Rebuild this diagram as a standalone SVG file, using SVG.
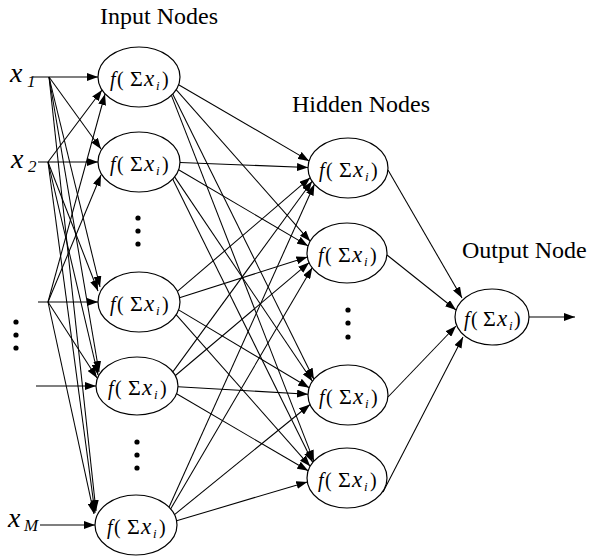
<svg xmlns="http://www.w3.org/2000/svg" width="591" height="559" viewBox="0 0 591 559">
  <style>
    .node { fill: #ffffff; stroke: #000000; stroke-width: 1.2; }
    .link { fill: none; stroke: #000000; stroke-width: 1.05; marker-end: url(#arrow); }
    .title { font-family: "Liberation Serif", "Times New Roman", serif; font-size: 24px; fill: #000000; }
    .fx { font-family: "Liberation Serif", "Times New Roman", serif; font-size: 20px; fill: #000000; }
    .it { font-style: italic; }
    .sg { font-size: 22px; }
    .xv { font-style: italic; font-size: 23px; }
    .sub { font-style: italic; font-size: 13px; }
    .inlab { font-family: "Liberation Serif", "Times New Roman", serif; font-style: italic; font-size: 28px; fill: #000000; }
    .insub { font-size: 17px; }
    .dot { fill: #000000; }
  </style>
  <defs>
    <marker id="arrow" markerUnits="userSpaceOnUse" markerWidth="11" markerHeight="8" refX="11" refY="4" orient="auto">
      <path d="M0,0 L11,4 L0,8 z" fill="#000000"/>
    </marker>
  </defs>

  <rect x="0" y="0" width="591" height="559" fill="#ffffff"/>

  <!-- layer headings -->
  <text class="title" x="100" y="24">Input Nodes</text>
  <text class="title" x="292" y="112">Hidden Nodes</text>
  <text class="title" x="462" y="258">Output Node</text>

  <!-- connectors -->
  <g id="connectors">
    <!-- inputs into the input layer -->
    <line class="link" x1="33" y1="77" x2="98" y2="77"/>
    <line class="link" x1="38" y1="162" x2="98" y2="162"/>
    <line class="link" x1="38" y1="302" x2="98" y2="302"/>
    <line class="link" x1="36" y1="386" x2="96" y2="386"/>
    <line class="link" x1="40" y1="525" x2="95" y2="525"/>
    <!-- fan-out from x1 -->
    <line class="link" x1="49" y1="77" x2="101" y2="149"/>
    <line class="link" x1="49" y1="77" x2="100" y2="287"/>
    <line class="link" x1="49" y1="77" x2="99" y2="372"/>
    <line class="link" x1="49" y1="77" x2="96" y2="511"/>
    <!-- fan-out from x2 -->
    <line class="link" x1="48" y1="162" x2="102" y2="90"/>
    <line class="link" x1="48" y1="162" x2="98" y2="291"/>
    <line class="link" x1="48" y1="162" x2="98" y2="375"/>
    <line class="link" x1="48" y1="162" x2="95" y2="513"/>
    <!-- fan-out from the third input -->
    <line class="link" x1="48" y1="302" x2="105" y2="94"/>
    <line class="link" x1="48" y1="302" x2="101" y2="175"/>
    <line class="link" x1="48" y1="302" x2="97" y2="378"/>
    <line class="link" x1="48" y1="302" x2="94" y2="514"/>

    <!-- input layer to hidden layer -->
    <line class="link" x1="178.6" y1="84.7" x2="309.1" y2="160.9"/>
    <line class="link" x1="176.1" y1="89.7" x2="310.2" y2="241.3"/>
    <line class="link" x1="172.7" y1="94.1" x2="313.9" y2="379.3"/>
    <line class="link" x1="171.4" y1="95.4" x2="313.9" y2="461.1"/>

    <line class="link" x1="180" y1="162.5" x2="308" y2="167.5"/>
    <line class="link" x1="178.6" y1="169.7" x2="308.1" y2="245.9"/>
    <line class="link" x1="174.6" y1="176.9" x2="312.4" y2="381.3"/>
    <line class="link" x1="172.7" y1="179" x2="312.8" y2="462.4"/>

    <line class="link" x1="177.4" y1="291.4" x2="310.2" y2="177.7"/>
    <line class="link" x1="179.5" y1="297.7" x2="307.4" y2="257"/>
    <line class="link" x1="178.6" y1="309.9" x2="309.2" y2="387.8"/>
    <line class="link" x1="176.1" y1="314.7" x2="310.2" y2="466.3"/>

    <line class="link" x1="173" y1="371.6" x2="312.1" y2="181.2"/>
    <line class="link" x1="175.4" y1="375.5" x2="309.1" y2="262.6"/>
    <line class="link" x1="178" y1="386.8" x2="308" y2="394.2"/>
    <line class="link" x1="176.6" y1="393.8" x2="308.2" y2="470.8"/>

    <line class="link" x1="169" y1="507.2" x2="314.4" y2="184.3"/>
    <line class="link" x1="170.6" y1="508.9" x2="312.2" y2="267.7"/>
    <line class="link" x1="174.5" y1="514.6" x2="310" y2="404.5"/>
    <line class="link" x1="176.6" y1="520.8" x2="307.3" y2="481.9"/>

    <!-- hidden layer to output -->
    <line class="link" x1="388" y1="170" x2="462" y2="298"/>
    <line class="link" x1="387" y1="255" x2="456" y2="310"/>
    <line class="link" x1="388" y1="397" x2="456" y2="326"/>
    <line class="link" x1="383" y1="492" x2="463" y2="337"/>

    <!-- network output -->
    <line class="link" x1="529" y1="317" x2="575" y2="317"/>
  </g>

  <!-- input labels -->
  <g id="input-x1">
    <text class="inlab" x="10" y="82">x<tspan class="insub" x="27" y="87">1</tspan></text>
  </g>
  <g id="input-x2">
    <text class="inlab" x="11" y="168">x<tspan class="insub" x="28" y="172">2</tspan></text>
  </g>
  <g id="input-xM">
    <text class="inlab" x="8" y="527">x<tspan class="insub" x="24" y="531">M</tspan></text>
  </g>
  <g id="input-dots">
    <circle class="dot" cx="16" cy="322" r="2.6"/>
    <circle class="dot" cx="16" cy="335" r="2.6"/>
    <circle class="dot" cx="16" cy="348" r="2.6"/>
  </g>

  <!-- input layer -->
  <g id="in1">
    <ellipse class="node" cx="139" cy="77" rx="41" ry="30"/>
    <text class="fx"><tspan class="it" x="110" y="86">f</tspan><tspan x="117" y="86">(</tspan><tspan class="sg" x="130" y="86">Σ</tspan><tspan class="xv" x="144" y="86">x</tspan><tspan class="sub" x="156" y="90">i</tspan><tspan x="162" y="86">)</tspan></text>
  </g>
  <g id="in2">
    <ellipse class="node" cx="139" cy="162" rx="41" ry="30"/>
    <text class="fx"><tspan class="it" x="110" y="171">f</tspan><tspan x="117" y="171">(</tspan><tspan class="sg" x="130" y="171">Σ</tspan><tspan class="xv" x="144" y="171">x</tspan><tspan class="sub" x="156" y="175">i</tspan><tspan x="162" y="171">)</tspan></text>
  </g>
  <g id="in-dots-a">
    <circle class="dot" cx="138" cy="218" r="2.6"/>
    <circle class="dot" cx="138" cy="231" r="2.6"/>
    <circle class="dot" cx="138" cy="244" r="2.6"/>
  </g>
  <g id="in3">
    <ellipse class="node" cx="139" cy="302" rx="41" ry="30"/>
    <text class="fx"><tspan class="it" x="110" y="311">f</tspan><tspan x="117" y="311">(</tspan><tspan class="sg" x="130" y="311">Σ</tspan><tspan class="xv" x="144" y="311">x</tspan><tspan class="sub" x="156" y="315">i</tspan><tspan x="162" y="311">)</tspan></text>
  </g>
  <g id="in4">
    <ellipse class="node" cx="137" cy="386" rx="41" ry="29"/>
    <text class="fx"><tspan class="it" x="108" y="395">f</tspan><tspan x="115" y="395">(</tspan><tspan class="sg" x="128" y="395">Σ</tspan><tspan class="xv" x="142" y="395">x</tspan><tspan class="sub" x="154" y="399">i</tspan><tspan x="160" y="395">)</tspan></text>
  </g>
  <g id="in-dots-b">
    <circle class="dot" cx="137" cy="442" r="2.6"/>
    <circle class="dot" cx="137" cy="455" r="2.6"/>
    <circle class="dot" cx="137" cy="468" r="2.6"/>
  </g>
  <g id="in5">
    <ellipse class="node" cx="136" cy="525" rx="41" ry="30"/>
    <text class="fx"><tspan class="it" x="107" y="534">f</tspan><tspan x="114" y="534">(</tspan><tspan class="sg" x="127" y="534">Σ</tspan><tspan class="xv" x="141" y="534">x</tspan><tspan class="sub" x="153" y="538">i</tspan><tspan x="159" y="534">)</tspan></text>
  </g>

  <!-- hidden layer -->
  <g id="hid1">
    <ellipse class="node" cx="348" cy="168" rx="40" ry="30"/>
    <text class="fx"><tspan class="it" x="319" y="177">f</tspan><tspan x="326" y="177">(</tspan><tspan class="sg" x="339" y="177">Σ</tspan><tspan class="xv" x="353" y="177">x</tspan><tspan class="sub" x="365" y="181">i</tspan><tspan x="371" y="177">)</tspan></text>
  </g>
  <g id="hid2">
    <ellipse class="node" cx="347" cy="253" rx="40" ry="30"/>
    <text class="fx"><tspan class="it" x="318" y="262">f</tspan><tspan x="325" y="262">(</tspan><tspan class="sg" x="338" y="262">Σ</tspan><tspan class="xv" x="352" y="262">x</tspan><tspan class="sub" x="364" y="266">i</tspan><tspan x="370" y="262">)</tspan></text>
  </g>
  <g id="hid-dots">
    <circle class="dot" cx="348" cy="310" r="2.6"/>
    <circle class="dot" cx="348" cy="323" r="2.6"/>
    <circle class="dot" cx="348" cy="337" r="2.6"/>
  </g>
  <g id="hid3">
    <ellipse class="node" cx="348" cy="395" rx="40" ry="30"/>
    <text class="fx"><tspan class="it" x="319" y="404">f</tspan><tspan x="326" y="404">(</tspan><tspan class="sg" x="339" y="404">Σ</tspan><tspan class="xv" x="353" y="404">x</tspan><tspan class="sub" x="365" y="408">i</tspan><tspan x="371" y="404">)</tspan></text>
  </g>
  <g id="hid4">
    <ellipse class="node" cx="347" cy="478" rx="40" ry="30"/>
    <text class="fx"><tspan class="it" x="318" y="487">f</tspan><tspan x="325" y="487">(</tspan><tspan class="sg" x="338" y="487">Σ</tspan><tspan class="xv" x="352" y="487">x</tspan><tspan class="sub" x="364" y="491">i</tspan><tspan x="370" y="487">)</tspan></text>
  </g>

  <!-- output layer -->
  <g id="out">
    <ellipse class="node" cx="492" cy="317" rx="37" ry="28"/>
    <text class="fx"><tspan class="it" x="464" y="326">f</tspan><tspan x="471" y="326">(</tspan><tspan class="sg" x="483" y="326">Σ</tspan><tspan class="xv" x="497" y="326">x</tspan><tspan class="sub" x="509" y="330">i</tspan><tspan x="514" y="326">)</tspan></text>
  </g>
</svg>
